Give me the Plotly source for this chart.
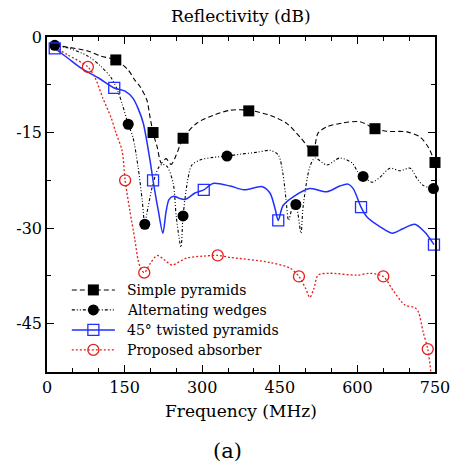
import plotly.graph_objects as go

# ---- data (frequency in MHz, reflectivity in dB) ----
sp_x = [15, 40, 79, 104, 133, 157, 170, 180, 193, 199, 205, 213, 221, 230, 240, 250, 263, 290, 321, 354, 390, 431, 464, 489, 514, 524, 541, 572, 605, 634, 657, 696, 721, 737, 750]
sp_y = [-1.3, -1.6, -2.2, -3.0, -3.6, -5.2, -6.8, -7.8, -9.9, -12.5, -15.0, -17.3, -19.8, -19.1, -20.0, -18.5, -15.9, -13.5, -12.3, -11.5, -11.5, -12.3, -13.6, -15.7, -17.9, -15.1, -14.1, -13.5, -13.3, -14.4, -14.8, -14.9, -15.7, -17.3, -19.7]
sp_mx = [133, 205, 263, 390, 514, 634, 750]
sp_my = [-3.6, -15.0, -15.9, -11.6, -17.9, -14.4, -19.7]

aw_x = [15, 40, 79, 104, 124, 137, 146, 157, 166, 176, 184, 189, 193, 205, 215, 222, 232, 244, 250, 259, 263, 273, 280, 296, 321, 348, 373, 406, 431, 447, 456, 462, 467, 474, 481, 485, 491, 495, 508, 518, 541, 566, 590, 601, 611, 628, 644, 663, 682, 702, 715, 727, 747]
aw_y = [-1.3, -1.7, -3.0, -4.6, -6.4, -8.5, -10.7, -13.7, -15.7, -20.4, -25.6, -29.4, -27.7, -23.0, -20.6, -20.0, -20.3, -23.0, -28.3, -33.0, -28.1, -22.0, -20.1, -19.3, -18.9, -18.7, -18.4, -18.1, -17.8, -18.5, -21.4, -25.5, -28.8, -26.9, -26.3, -27.7, -30.8, -26.7, -20.4, -19.0, -20.1, -19.0, -19.8, -21.2, -21.9, -22.8, -22.0, -20.6, -21.0, -20.6, -22.2, -23.3, -23.8]
aw_mx = [15, 157, 189, 263, 348, 481, 611, 747]
aw_my = [-1.3, -13.7, -29.4, -28.1, -18.7, -26.3, -21.9, -23.8]

tp_x = [15, 40, 66, 99, 130, 151, 166, 176, 186, 199, 205, 215, 224, 230, 236, 245, 255, 267, 286, 303, 321, 354, 381, 416, 431, 441, 447, 456, 476, 508, 541, 566, 582, 592, 607, 619, 644, 667, 688, 711, 731, 748]
tp_y = [-1.8, -3.3, -4.9, -6.4, -8.0, -8.5, -9.6, -11.2, -13.5, -19.3, -22.5, -27.2, -30.8, -27.5, -25.5, -25.0, -25.3, -25.5, -24.5, -24.0, -23.0, -23.4, -24.0, -23.5, -24.5, -27.0, -28.8, -26.5, -25.1, -23.8, -24.3, -23.4, -23.1, -23.8, -26.7, -28.3, -29.8, -30.8, -30.1, -29.4, -30.7, -32.6]
tp_mx = [15, 130, 205, 303, 447, 607, 748]
tp_my = [-1.8, -8.0, -22.5, -24.0, -28.8, -26.7, -32.6]

pa_x = [15, 40, 79, 93, 108, 124, 133, 145, 151, 160, 170, 176, 182, 188, 200, 213, 227, 241, 270, 302, 330, 354, 431, 470, 487, 500, 508, 516, 524, 547, 599, 624, 650, 669, 692, 711, 718, 727, 736, 742, 746]
pa_y = [-1.6, -2.8, -4.7, -6.4, -9.6, -12.7, -15.0, -17.8, -22.5, -27.2, -31.9, -35.0, -36.5, -37.0, -35.5, -34.3, -35.0, -35.8, -34.7, -34.4, -34.3, -34.6, -35.4, -36.3, -37.6, -39.5, -40.9, -39.5, -37.4, -37.1, -37.4, -37.1, -37.6, -39.8, -42.1, -42.5, -43.2, -46.3, -49.0, -52.6, -56.0]
pa_mx = [79, 151, 188, 330, 487, 650, 736]
pa_my = [-4.7, -22.5, -37.0, -34.3, -37.6, -37.6, -49.0]

x_ticks = [0, 150, 300, 450, 600, 750]
y_ticks = [0, -15, -30, -45]
y_ticktext = ["0", "-15", "-30", "-45"]

names = ["Simple pyramids", "Alternating wedges", "45° twisted pyramids", "Proposed absorber"]

FONT = "DejaVu Serif"
BLUE = "#1f2fff"
RED = "#e0201c"

series = [
    (sp_x, sp_y, sp_mx, sp_my, dict(color="black", width=1.1, dash="5px,3px"),
     dict(symbol="square", size=11, color="black")),
    (aw_x, aw_y, aw_mx, aw_my, dict(color="black", width=1.1, dash="3px,2px,1px,2px,1px,2px"),
     dict(symbol="circle", size=11, color="black")),
    (tp_x, tp_y, tp_mx, tp_my, dict(color=BLUE, width=1.5),
     dict(symbol="square-open", size=11, color=BLUE, line=dict(width=1.3, color=BLUE))),
    (pa_x, pa_y, pa_mx, pa_my, dict(color=RED, width=1.3, dash="2px,2px"),
     dict(symbol="circle-open", size=11, color=RED, line=dict(width=1.3, color=RED))),
]

fig = go.Figure()
for (lx, ly, mx, my, ln, mk), nm in zip(series, names):
    fig.add_trace(go.Scatter(x=lx, y=ly, mode="lines", line=dict(shape="spline", smoothing=0.8, **ln),
                             showlegend=False, hoverinfo="skip"))
for (lx, ly, mx, my, ln, mk), nm in zip(series, names):
    fig.add_trace(go.Scatter(x=mx, y=my, mode="markers", marker=mk, showlegend=False, cliponaxis=False))

# ---- manual legend drawn on an invisible overlay axis spanning the plot area (0..1) ----
LEG_X0, LEG_X1, LEG_TX = 0.064, 0.175, 0.201
LEG_Y0, LEG_DY = 0.245, 0.0597
annotations = []
for i, ((lx, ly, mx, my, ln, mk), nm) in enumerate(zip(series, names)):
    yy = LEG_Y0 - i * LEG_DY
    fig.add_trace(go.Scatter(x=[LEG_X0, LEG_X1], y=[yy, yy], mode="lines", line=ln,
                             xaxis="x2", yaxis="y2", showlegend=False, hoverinfo="skip"))
    fig.add_trace(go.Scatter(x=[(LEG_X0 + LEG_X1) / 2], y=[yy], mode="markers", marker=mk,
                             xaxis="x2", yaxis="y2", showlegend=False, hoverinfo="skip"))
    annotations.append(dict(text=nm, x=LEG_TX, y=yy, xref="x2", yref="y2", xanchor="left",
                            yanchor="middle", showarrow=False,
                            font=dict(family=FONT, size=14, color="black")))

axis_common = dict(
    showline=True, linecolor="black", linewidth=1.5, mirror="ticks",
    ticks="inside", ticklen=7, tickwidth=1.2, tickcolor="black",
    showgrid=False, zeroline=False, automargin=False,
    tickfont=dict(family=FONT, size=16, color="black"),
)

annotations += [
    dict(text="Reflectivity (dB)", x=0.5, y=1.063, xref="paper", yref="paper", yanchor="middle",
         xanchor="center", showarrow=False, font=dict(family=FONT, size=17, color="black")),
    dict(text="Frequency (MHz)", x=0.5, y=-0.115, xref="paper", yref="paper", yanchor="middle",
         xanchor="center", showarrow=False, font=dict(family=FONT, size=17, color="black")),
    dict(text="(a)", x=0.466, y=-0.236, xref="paper", yref="paper", yanchor="middle",
         xanchor="center", showarrow=False, font=dict(family=FONT, size=21, color="black")),
]

fig.update_layout(
    width=460, height=466,
    margin=dict(l=47, r=25, t=37, b=94),
    paper_bgcolor="white", plot_bgcolor="white",
    font=dict(family=FONT, color="black"),
    showlegend=False,
    xaxis=dict(range=[0, 750], tickvals=x_ticks,
               minor=dict(dtick=50, ticks="inside", ticklen=4, tickcolor="black", tickwidth=1),
               **axis_common),
    yaxis=dict(range=[-52.6, 0], tickvals=y_ticks, ticktext=y_ticktext,
               minor=dict(dtick=7.5, ticks="inside", ticklen=4, tickcolor="black", tickwidth=1),
               **axis_common),
    xaxis2=dict(range=[0, 1], overlaying="x", visible=False, fixedrange=True),
    yaxis2=dict(range=[0, 1], overlaying="y", visible=False, fixedrange=True),
    annotations=annotations,
)

fig.write_html("out.html")
